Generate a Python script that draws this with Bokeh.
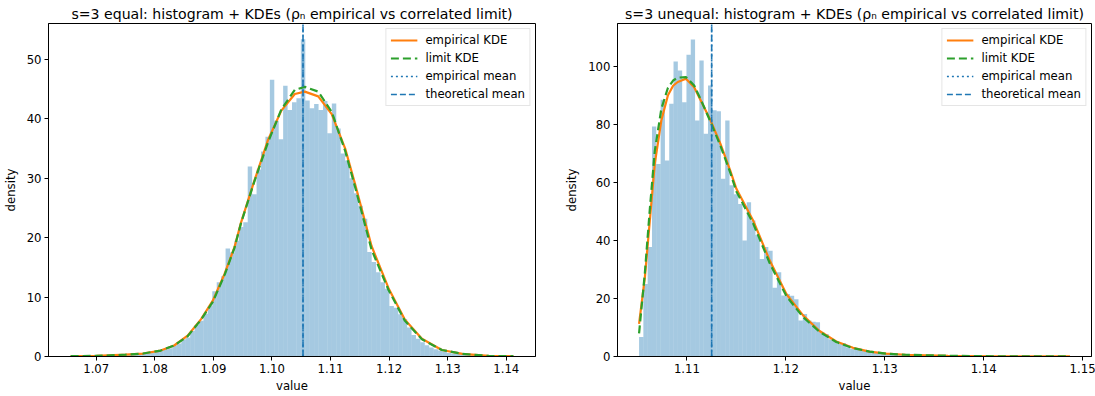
import numpy as np
from bokeh.plotting import figure
from bokeh.layouts import row
from bokeh.models import Legend, LegendItem, FixedTicker, NumeralTickFormatter, Range1d
from bokeh.embed import file_html
from bokeh.resources import INLINE

# ---------------- data: left panel (s=3 equal) ----------------
left_title = "s=3 equal: histogram + KDEs (ρₙ empirical vs correlated limit)"
left_hist_range = [1.06563, 1.14121]
left_hist = [
    0.05, 0.0, 0.05, 0.05, 0.1, 0.05, 0.1, 0.1, 0.15, 0.15,
    0.2, 0.2, 0.25, 0.3, 0.3, 0.4, 0.45, 0.5, 0.6, 0.75,
    1.1, 1.2, 1.4, 1.9, 2.2, 2.9, 3.2, 4.3, 5.3, 6.0,
    7.2, 8.5, 11.0, 12.5, 13.5, 18.2, 17.5, 19.5, 21.8, 22.6,
    32.0, 27.3, 31.5, 34.5, 37.0, 46.6, 39.7, 36.6, 45.6, 41.5,
    42.8, 43.5, 53.4, 43.1, 41.8, 42.5, 41.5, 43.0, 37.6, 42.6,
    38.4, 34.2, 33.0, 30.0, 27.5, 25.4, 23.2, 17.6, 15.9, 14.2,
    12.5, 11.4, 8.5, 8.2, 7.1, 6.3, 4.9, 3.6, 3.0, 2.4,
    1.9, 1.5, 1.2, 1.0, 0.8, 0.6, 0.5, 0.4, 0.35, 0.3,
    0.2, 0.2, 0.15, 0.1, 0.1, 0.05, 0.05, 0.05, 0.0, 0.05,
]
left_kde_x = [1.06563, 1.0700, 1.0750, 1.0780, 1.0810, 1.0833, 1.0856, 1.0879, 1.0899,
              1.0919, 1.0936, 1.0947, 1.0970, 1.0993, 1.1016, 1.1039, 1.1056, 1.1079,
              1.1102, 1.1125, 1.1142, 1.1170, 1.1199, 1.1227, 1.1256, 1.1290, 1.1325,
              1.1370, 1.14121]
left_kde_emp = [0.05, 0.1, 0.3, 0.5, 1.0, 1.85, 3.5, 6.3, 9.4,
                13.9, 18.4, 22.5, 29.6, 36.4, 41.4, 44.2, 44.6, 43.8,
                40.8, 35.0, 29.0, 18.6, 11.5, 6.2, 3.0, 1.1, 0.45,
                0.1, 0.05]
left_kde_lim = [0.05, 0.1, 0.3, 0.5, 1.0, 1.85, 3.4, 6.2, 9.2,
                13.7, 18.3, 22.4, 29.5, 36.0, 41.6, 44.9, 45.4, 44.6,
                41.2, 34.6, 28.5, 18.0, 11.2, 6.0, 2.9, 1.1, 0.45,
                0.1, 0.05]
left_emp_mean = 1.1053
left_theo_mean = 1.1053
left_xticks = [1.07, 1.08, 1.09, 1.10, 1.11, 1.12, 1.13, 1.14]
left_yticks = [0, 10, 20, 30, 40, 50]

# ---------------- data: right panel (s=3 unequal) ----------------
right_title = "s=3 unequal: histogram + KDEs (ρₙ empirical vs correlated limit)"
right_hist_range = [1.10516, 1.14872]
right_hist = [
    6.7, 25.0, 37.8, 79.4, 66.5, 88.7, 67.7, 87.3, 101.9, 98.8,
    87.8, 104.2, 109.5, 81.5, 102.2, 76.9, 93.6, 85.0, 84.7, 61.4,
    81.5, 59.1, 56.0, 52.7, 40.1, 53.3, 47.0, 42.0, 33.7, 37.8,
    36.5, 23.7, 29.1, 21.1, 21.6, 21.0, 19.8, 12.4, 14.7, 12.4,
    12.0, 11.8, 8.5, 7.8, 6.0, 5.3, 4.3, 4.7, 3.2, 2.7,
    2.4, 2.2, 1.9, 1.7, 1.5, 1.3, 1.1, 1.0, 0.9, 0.8,
    0.7, 0.65, 0.6, 0.5, 0.45, 0.4, 0.35, 0.3, 0.3, 0.25,
    0.2, 0.2, 0.18, 0.15, 0.15, 0.12, 0.1, 0.1, 0.08, 0.08,
    0.06, 0.05, 0.05, 0.04, 0.04, 0.03, 0.03, 0.02, 0.02, 0.02,
    0.02, 0.01, 0.01, 0.01, 0.0, 0.01, 0.0, 0.0, 0.01, 0.01,
]
right_kde_x = [1.10516, 1.10575, 1.10625, 1.10675, 1.10741, 1.10808, 1.10860, 1.10907,
               1.10990, 1.11073, 1.11156, 1.11239, 1.11338, 1.11438, 1.11500, 1.11669,
               1.11836, 1.12005, 1.12174, 1.12341, 1.12510, 1.12679, 1.12846, 1.13015,
               1.13210, 1.13640, 1.14140, 1.14872]
right_kde_emp = [11.3, 27.4, 47.0, 66.6, 81.5, 90.2, 93.5, 94.8,
                 95.9, 93.0, 87.3, 81.5, 73.5, 64.2, 57.9, 47.0,
                 33.2, 21.6, 14.2, 8.8, 5.2, 3.0, 1.7, 1.0,
                 0.6, 0.25, 0.08, 0.02]
right_kde_lim = [8.0, 29.0, 51.0, 71.0, 85.5, 92.8, 95.3, 96.3,
                 96.5, 93.6, 87.5, 81.0, 72.8, 63.5, 57.0, 46.0,
                 32.3, 20.9, 13.6, 8.5, 5.0, 2.9, 1.7, 1.0,
                 0.6, 0.25, 0.08, 0.02]
right_emp_mean = 1.1125
right_theo_mean = 1.1125
right_xticks = [1.11, 1.12, 1.13, 1.14, 1.15]
right_yticks = [0, 20, 40, 60, 80, 100]

FONT = "DejaVu Sans"
C0 = "#1f77b4"
C1 = "#ff7f0e"
C2 = "#2ca02c"


def make_panel(title, hist_range, hist, kx, kemp, klim, emean, tmean,
               xr, yr, xticks, yticks, bl, fw, br):
    p = figure(width=bl + fw + br, height=396, frame_width=fw, frame_height=333,
               x_range=Range1d(*xr), y_range=Range1d(*yr),
               output_backend="svg", toolbar_location=None,
               min_border_left=bl, min_border_right=br, min_border_top=23,
               min_border_bottom=40)
    p.title.text = title
    p.title.text_font = FONT
    p.title.text_font_size = "14.1px"
    p.title.text_font_style = "normal"
    p.title.text_color = "black"
    p.title.align = "center"
    p.title.offset = 0
    p.title.standoff = 4

    edges = np.linspace(hist_range[0], hist_range[1], len(hist) + 1)
    p.quad(left=edges[:-1], right=edges[1:], bottom=0, top=hist,
           fill_color=C0, fill_alpha=0.4, line_color=None)

    r1 = p.line(kx, kemp, line_color=C1, line_width=2.2)
    r2 = p.line(kx, klim, line_color=C2, line_width=2.2, line_dash="8 4")
    r3 = p.line([emean, emean], [yr[0], yr[1]], line_color=C0, line_width=1.6,
                line_dash="2 3")
    r4 = p.line([tmean, tmean], [yr[0], yr[1]], line_color=C0, line_width=1.6,
                line_dash="6 3")

    legend = Legend(items=[
        LegendItem(label="empirical KDE", renderers=[r1]),
        LegendItem(label="limit KDE", renderers=[r2]),
        LegendItem(label="empirical mean", renderers=[r3]),
        LegendItem(label="theoretical mean", renderers=[r4]),
    ], location="top_right")
    legend.label_text_font = FONT
    legend.label_text_font_size = "11.7px"
    legend.label_text_color = "black"
    legend.label_height = 14
    legend.glyph_height = 14
    legend.glyph_width = 27
    legend.spacing = 4
    legend.padding = 4
    legend.margin = 5
    legend.label_standoff = 8
    legend.border_line_color = "#cccccc"
    legend.border_line_width = 1
    legend.background_fill_alpha = 0.8
    p.add_layout(legend)

    p.xgrid.visible = False
    p.ygrid.visible = False
    p.outline_line_color = "black"
    p.outline_line_width = 1
    p.outline_line_alpha = 1

    for ax in (p.xaxis[0], p.yaxis[0]):
        ax.axis_line_color = "black"
        ax.major_tick_line_color = "black"
        ax.major_tick_out = 4
        ax.major_tick_in = 0
        ax.minor_tick_out = 0
        ax.minor_tick_in = 0
        ax.major_label_text_font = FONT
        ax.major_label_text_font_size = "11.7px"
        ax.major_label_text_color = "black"
        ax.axis_label_text_font = FONT
        ax.axis_label_text_font_size = "11.7px"
        ax.axis_label_text_font_style = "normal"
        ax.axis_label_text_color = "black"
        ax.major_label_standoff = 3
    p.xaxis[0].ticker = FixedTicker(ticks=xticks)
    p.xaxis[0].formatter = NumeralTickFormatter(format="0.00")
    p.yaxis[0].ticker = FixedTicker(ticks=yticks)
    p.xaxis[0].axis_label = "value"
    p.yaxis[0].axis_label = "density"
    p.xaxis[0].axis_label_standoff = 3
    p.yaxis[0].axis_label_standoff = 6
    return p


p1 = make_panel(left_title, left_hist_range, left_hist, left_kde_x, left_kde_emp,
                left_kde_lim, left_emp_mean, left_theo_mean,
                (1.06185, 1.14499), (0, 56.07), left_xticks, left_yticks, 47, 487, 26)
p2 = make_panel(right_title, right_hist_range, right_hist, right_kde_x, right_kde_emp,
                right_kde_lim, right_emp_mean, right_theo_mean,
                (1.10298, 1.15090), (0, 115.0), right_xticks, right_yticks, 56, 474, 5)

layout = row(p1, p2)
open("out.html", "w").write(file_html(layout, INLINE))
